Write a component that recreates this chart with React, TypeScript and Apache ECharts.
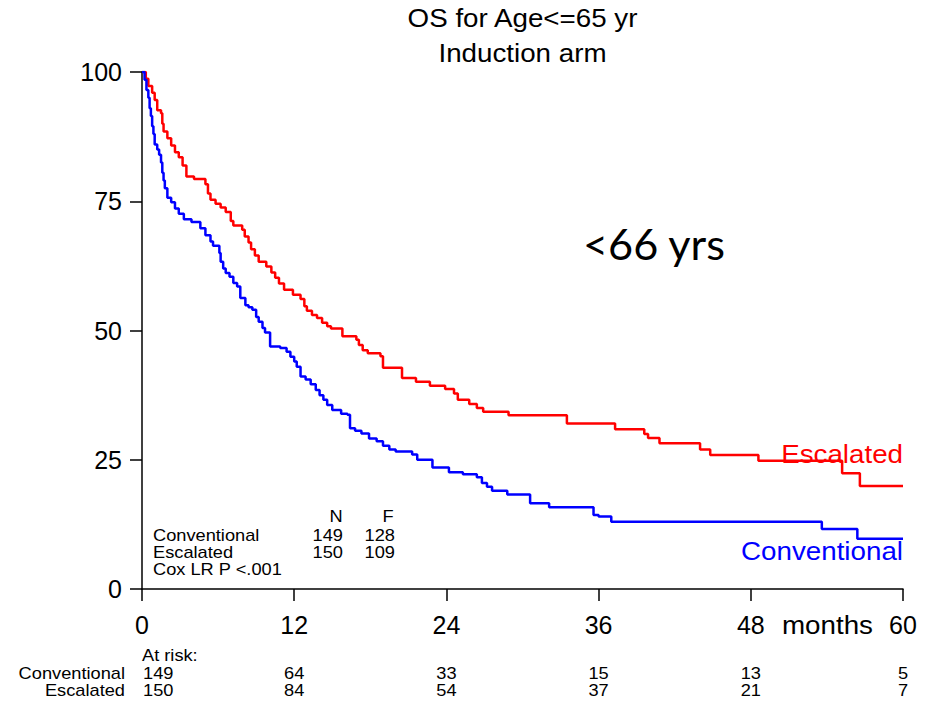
import React, { useEffect, useRef } from "react";
import * as echarts from "echarts";

// Kaplan-Meier overall survival, patients aged <= 65, induction arm
const escMonths = [
  0, 0.3, 0.5, 0.8, 1.0, 1.2, 1.5, 1.6, 1.7, 2.0, 2.3, 2.6, 2.9, 3.2, 3.5, 4.1, 5.0, 5.2, 5.4, 5.8,
  6.2, 6.6, 7.0, 7.2, 7.9, 8.1, 8.4, 8.6, 8.9, 9.2, 9.8, 10.2, 10.5, 10.8, 11.2, 11.9, 12.5, 12.8,
  13.0, 13.4, 13.8, 14.2, 14.6, 14.9, 15.8, 16.9, 17.1, 17.4, 17.8, 18.8, 19.0, 20.5, 21.6, 22.7,
  23.9, 24.6, 24.9, 25.8, 26.4, 26.9, 28.9, 33.5, 37.3, 39.6, 39.9, 40.8, 44.0, 44.8, 48.6, 55.2,
  56.6, 60,
];
const escSurv = [
  100, 98.7, 97.3, 96, 94.6, 92.6, 92, 90, 88.5, 87.2, 85.8, 84.5, 83.5, 81.9, 79.8, 79.3, 78.3,
  76.5, 75.3, 74.5, 73.8, 72.9, 71.2, 70.3, 69.5, 68.2, 67, 65.7, 64.5, 63.3, 62.4, 61.2, 60.2,
  59.1, 57.9, 56.9, 56.1, 54.7, 53.8, 53, 52.4, 51.5, 50.8, 50.4, 48.9, 48.2, 47.2, 46.2, 45.6,
  45, 42.8, 40.8, 40.1, 39.3, 38.7, 37.8, 36.6, 35.8, 35.0, 34.3, 33.6, 32.0, 30.9, 30.0, 29.2,
  28.2, 27.0, 25.9, 24.8, 22.4, 19.9, 19.9,
];

const convMonths = [
  0, 0.2, 0.35, 0.5, 0.6, 0.7, 0.8, 0.9, 1.0, 1.2, 1.35, 1.5, 1.6, 1.7, 1.8, 2.0, 2.3, 2.6, 2.9,
  3.3, 3.9, 4.6, 5.0, 5.4, 5.6, 6.1, 6.2, 6.4, 6.6, 6.9, 7.2, 7.5, 7.75, 8.15, 8.4, 8.7, 9.0, 9.2,
  9.5, 9.7, 10.1, 10.9, 11.4, 11.7, 12.0, 12.2, 12.5, 12.9, 13.3, 13.7, 14.0, 14.3, 14.6, 15.0,
  15.7, 16.2, 16.4, 16.8, 17.3, 17.9, 18.5, 19.0, 19.5, 20.0, 21.3, 21.7, 22.9, 24.2, 25.3, 26.4,
  26.8, 27.2, 27.6, 28.8, 30.6, 32.1, 35.6, 36.0, 37.0, 53.6, 56.4, 60,
];
const convSurv = [
  100, 98.5, 96.5, 95, 93, 91.5, 89.5, 88, 86, 85, 84, 82.5, 80.5, 79, 77.5, 75.7, 74.8, 73.6,
  72.6, 71.5, 71.0, 69.8, 68.4, 67.2, 66.4, 65, 63.3, 62, 61.1, 60.4, 59.2, 58.5, 56.3, 54.9, 54.5,
  54, 52.6, 51.7, 50.5, 49.6, 46.9, 46.6, 45.9, 44.9, 44.0, 43, 41.1, 40.5, 39.6, 38.5, 37.5, 36.6,
  35.6, 34.6, 33.9, 33.7, 31.1, 30.6, 30.1, 29.1, 28.6, 27.7, 27.0, 26.6, 26.0, 25.0, 23.5, 22.6,
  22.2, 21.6, 20.5, 19.8, 19.0, 18.3, 16.6, 15.8, 14.3, 14.0, 13.0, 11.6, 9.7, 9.7,
];

const riskMonths = [0, 12, 24, 36, 48, 60];
const riskConventional = [149, 64, 33, 15, 13, 5];
const riskEscalated = [150, 84, 54, 37, 21, 7];

const groups = ["Conventional", "Escalated"];
const groupN = [149, 150];
const groupF = [128, 109];
const pValueText = "Cox LR P <.001";

const titleLines = ["OS for Age<=65 yr", "Induction arm"];
const subgroupLabel = "<66 yrs";

const RED = "#ff0000";
const BLUE = "#0000ff";
const FONT = '"Liberation Sans", Arial, sans-serif';

const zip = (xs: number[], ys: number[]) => xs.map((x, i) => [x, ys[i]]);

export default function App() {
  const ref = useRef<HTMLDivElement>(null);

  useEffect(() => {
    const chart = echarts.init(ref.current!, null, { renderer: "svg" });
    const axisCommon = {
      axisLine: { show: true, lineStyle: { color: "#000", width: 1.5 } },
      axisTick: { show: true, inside: false, length: 12, lineStyle: { color: "#000", width: 1.5 } },
      splitLine: { show: false },
    };
    chart.setOption({
      animation: false,
      backgroundColor: "#fff",
      grid: { left: 142, top: 72, right: 29, bottom: 112, containLabel: false },
      xAxis: {
        type: "value",
        min: 0,
        max: 60,
        interval: 12,
        ...axisCommon,
        axisLabel: { color: "#000", fontSize: 25, fontFamily: FONT, margin: 23 },
      },
      yAxis: {
        type: "value",
        min: 0,
        max: 100,
        interval: 25,
        ...axisCommon,
        axisLabel: { color: "#000", fontSize: 25, fontFamily: FONT, margin: 20 },
      },
      series: [
        {
          name: "Escalated",
          type: "line",
          step: "end",
          symbol: "none",
          data: zip(escMonths, escSurv),
          lineStyle: { color: RED, width: 2.5 },
          z: 3,
        },
        {
          name: "Conventional",
          type: "line",
          step: "end",
          symbol: "none",
          data: zip(convMonths, convSurv),
          lineStyle: { color: BLUE, width: 2.5 },
          z: 4,
        },
      ],
    });

    const px = (x: number, y: number) => chart.convertToPixel({ gridIndex: 0 }, [x, y]) as number[];
    const [x0, y0] = px(0, 0);
    const [xEnd] = px(60, 0);
    const xMid = (x0 + xEnd) / 2;

    const txt = (
      text: string,
      x: number,
      y: number,
      size: number,
      align: string = "left",
      fill = "#000",
      scaleX = 1,
      family = FONT
    ) => ({
      type: "text",
      x,
      y,
      scaleX,
      silent: true,
      style: { text, fill, fontSize: size, fontFamily: family, align, verticalAlign: "middle" },
    });

    const graphics: any[] = [];
    graphics.push(txt(titleLines[0], xMid, 18, 25, "center", "#000", 1.11));
    graphics.push(txt(titleLines[1], xMid, 53, 25, "center", "#000", 1.11));
    graphics.push(txt(subgroupLabel, 583, 244, 42, "left", "#000", 1.03, "Lato, 'Open Sans', sans-serif"));
    graphics.push(txt("months", 782, y0 + 36, 25, "left", "#000", 1.11));

    // curve end labels
    const escEnd = px(60, escSurv[escSurv.length - 1]);
    const convEnd = px(60, convSurv[convSurv.length - 1]);
    graphics.push(txt("Escalated", escEnd[0], escEnd[1] - 32, 25, "right", RED, 1.11));
    graphics.push(txt("Conventional", convEnd[0], convEnd[1] + 13, 25, "right", BLUE, 1.11));

    // N / F summary
    const S = 16;
    const SX = 1.14;
    const statLeft = x0 + 11;
    const nRight = x0 + 201;
    const fRight = x0 + 253;
    const rowY = [y0 - 54, y0 - 37];
    graphics.push(txt("N", nRight - 7, y0 - 73, S, "center", "#000", SX));
    graphics.push(txt("F", fRight - 7, y0 - 73, S, "center", "#000", SX));
    groups.forEach((g, i) => {
      graphics.push(txt(g, statLeft, rowY[i], S, "left", "#000", SX));
      graphics.push(txt(String(groupN[i]), nRight, rowY[i], S, "right", "#000", SX));
      graphics.push(txt(String(groupF[i]), fRight, rowY[i], S, "right", "#000", SX));
    });
    graphics.push(txt(pValueText, statLeft, y0 - 20, S, "left", "#000", SX));

    // numbers at risk
    graphics.push(txt("At risk:", x0, y0 + 66, S, "left", "#000", SX));
    const riskRows = [riskConventional, riskEscalated];
    const riskY = [y0 + 84, y0 + 101];
    groups.forEach((g, r) => {
      graphics.push(txt(g, x0 - 17, riskY[r], S, "right", "#000", SX));
      riskMonths.forEach((m, i) => {
        const [mx] = px(m, 0);
        graphics.push(
          txt(String(riskRows[r][i]), i === 0 ? mx + 1 : mx, riskY[r], S, i === 0 ? "left" : "center", "#000", SX)
        );
      });
    });

    chart.setOption({ graphic: graphics });
    return () => chart.dispose();
  }, []);

  return (
    <div
      ref={ref}
      style={{ position: "absolute", left: 0, top: 0, width: 932, height: 701, background: "#fff" }}
    />
  );
}
